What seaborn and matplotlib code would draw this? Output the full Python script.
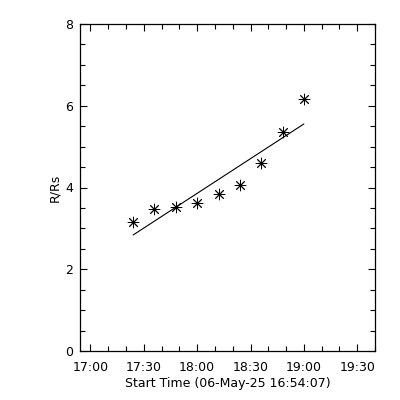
import numpy as np
import pandas as pd
import matplotlib
matplotlib.use("Agg")
import matplotlib.pyplot as plt
import seaborn as sns
from matplotlib.ticker import MultipleLocator

# Data
times = ["17:24", "17:36", "17:48", "18:00", "18:12", "18:24", "18:36", "18:48", "19:00"]
r_rs = [3.15, 3.47, 3.52, 3.61, 3.83, 4.05, 4.61, 5.36, 6.17]
xtick_labels = ["17:00", "17:30", "18:00", "18:30", "19:00", "19:30"]
start_label = "Start Time (06-May-25 16:54:07)"


def to_min(t):
    h, m = t.split(":")
    return (int(h) - 17) * 60 + int(m)


df = pd.DataFrame({"t": [to_min(t) for t in times], "r": r_rs})

sns.set_style("ticks")
plt.rcParams["font.family"] = ["DejaVu Sans"]

fig = plt.figure(figsize=(4, 4), dpi=100)
ax = fig.add_axes([0.2, 0.1225, 0.7375, 0.8175])

sns.regplot(data=df, x="t", y="r", scatter=False, ci=None, ax=ax,
            line_kws=dict(color="black", lw=0.8))
sns.scatterplot(data=df, x="t", y="r", marker=(8, 2, 0), s=60, color="black",
                linewidth=0.65, ax=ax, zorder=3)

start_offset = -(5 + 53 / 60)  # 16:54:07 relative to 17:00
ax.set_xlim(start_offset, 160)
ax.set_ylim(0, 8)

ax.set_xticks([to_min(t) for t in xtick_labels])
ax.set_xticklabels(xtick_labels)
ax.xaxis.set_minor_locator(MultipleLocator(10))
ax.set_yticks([0, 2, 4, 6, 8])
ax.yaxis.set_minor_locator(MultipleLocator(0.5))

ax.tick_params(which="both", direction="in", top=True, right=True,
               labelsize=9, color="black", labelcolor="black", width=0.8)
ax.tick_params(which="major", length=5)
ax.tick_params(which="minor", length=3.5)
ax.tick_params(axis="x", pad=7)
ax.tick_params(axis="y", pad=5)

for s in ax.spines.values():
    s.set_visible(True)
    s.set_color("black")
    s.set_linewidth(0.9)

ax.set_xlabel(start_label, fontsize=9, labelpad=2, color="black")
ax.set_ylabel("R/Rs", fontsize=9, labelpad=3, color="black")

fig.savefig("out.png", dpi=100)
